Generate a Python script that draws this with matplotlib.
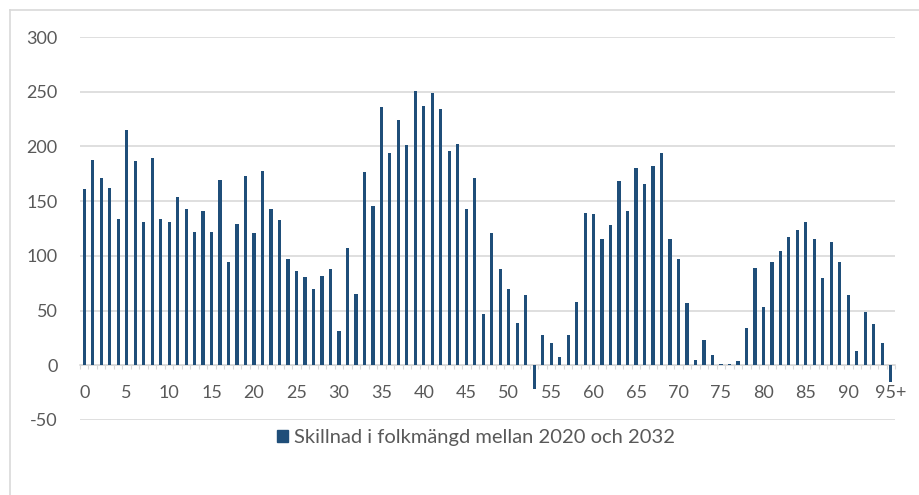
import matplotlib
matplotlib.use("Agg")
import matplotlib.pyplot as plt
from matplotlib.patches import Patch
from matplotlib.lines import Line2D

plt.rcParams['font.family'] = ['Lato', 'DejaVu Sans']

ages = list(range(96))
values = [161, 188, 171, 162, 134, 215, 187, 131, 189, 134,
          131, 154, 143, 122, 141, 122, 169, 94, 129, 173,
          121, 178, 143, 133, 97, 86, 81, 70, 82, 88,
          31, 107, 65, 177, 146, 236, 194, 224, 201, 251,
          237, 249, 234, 196, 202, 143, 171, 47, 121, 88,
          70, 39, 64, -22, 28, 20, 8, 28, 58, 139,
          138, 115, 128, 168, 141, 180, 166, 182, 194, 115,
          97, 57, 5, 23, 9, 1, 1, 4, 34, 89,
          53, 94, 104, 117, 124, 131, 115, 80, 113, 94,
          64, 13, 49, 38, 20, -15]
tick_positions = list(range(0, 96, 5))
tick_labels = [str(t) for t in range(0, 95, 5)] + ['95+']
yticks = [-50, 0, 50, 100, 150, 200, 250, 300]
series_label = 'Skillnad i folkmängd mellan 2020 och 2032'

W, H = 919, 495
fig = plt.figure(figsize=(W / 100, H / 100), dpi=100)
fig.patch.set_facecolor('white')

# outer frame (top and left edges visible)
fig.add_artist(Line2D([10 / W, 10 / W], [0, 1 - 10 / H], color='#d9d9d9', lw=1.2,
                      transform=fig.transFigure))
fig.add_artist(Line2D([10 / W, 1], [1 - 10 / H, 1 - 10 / H], color='#d9d9d9', lw=1.2,
                      transform=fig.transFigure))

ax = fig.add_axes([80 / W, (H - 420) / H, (895 - 80) / W, (420 - 37) / H])
bar_color = '#1f4e79'
ax.bar(ages, values, width=0.38, color=bar_color, zorder=3)

ax.set_xlim(-0.5, 95.5)
ax.set_ylim(-50, 300)
ax.set_yticks(yticks)
ax.set_yticklabels([str(v) for v in yticks])
ax.grid(axis='y', color='#d9d9d9', lw=1.2, zorder=0)
ax.tick_params(axis='y', length=0, pad=16, labelsize=13, labelcolor='#595959')

for s in ['top', 'right', 'left']:
    ax.spines[s].set_visible(False)
ax.spines['bottom'].set_position(('data', 0))
ax.spines['bottom'].set_color('#d9d9d9')
ax.spines['bottom'].set_linewidth(1.2)
ax.spines['bottom'].set_zorder(2)

ax.set_xticks([i + 0.5 for i in range(-1, 96)], minor=True)
ax.set_xticks([])
ax.tick_params(axis='x', which='minor', length=3, width=0.8, color='#d9d9d9', direction='out')
for p, lab in zip(tick_positions, tick_labels):
    ax.text(p, -25.6, lab, ha='center', va='center', fontsize=13, color='#595959')

fig.legend(handles=[Patch(facecolor=bar_color, edgecolor=bar_color)], labels=[series_label],
           loc='center', bbox_to_anchor=(476 / W, 1 - 438 / H), frameon=False,
           handlelength=0.55, handleheight=0.55, handletextpad=0.3,
           prop={'size': 14.5}, labelcolor='#595959')

fig.savefig('out.png', dpi=100, facecolor='white')
